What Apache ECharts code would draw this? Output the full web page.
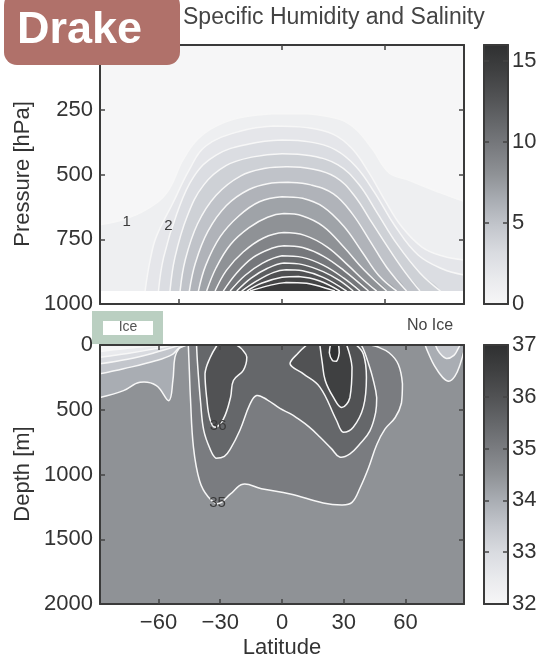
<!DOCTYPE html>
<html><head><meta charset="utf-8">
<script src="https://cdn.jsdelivr.net/npm/echarts@6/dist/echarts.min.js"></script>
<style>html,body{margin:0;padding:0;background:#fff}#c{width:541px;height:659px}</style>
</head><body><div id="c"></div>
<script>
// ---------------- DATA ----------------
// Specific humidity contours (g/kg): [latitude, pressure hPa], from left foot to right foot
const humidityLevels = [1,2,3,4,5,6,7,8,9,10,11,12,13,14,15];
const q1 = [[-88.4,694],[-77,674],[-66,636],[-56,571],[-48,442],[-41,364],[-32,313],[-20,280],[-4,265],[12,265],[28,287],[36,326],[44,403],[52,493],[60.5,519],[77,571],[88.4,603]];
const q2 = [[-66.5,950],[-64,829],[-61,739],[-53,610],[-45,481],[-37,390],[-20,332],[-4,313],[12,319],[25,345],[34,400],[42,490],[50,600],[58,700],[68,780],[78,815],[88.4,830]];
const q3 = [[-60,950],[-57.5,820],[-51,650],[-43,510],[-32,425],[-16,382],[0,367],[14,375],[26,405],[36,470],[45,570],[55,700],[66,810],[78,865],[88.4,888]];
const q4 = [[-54.4,950],[-52,820],[-46,660],[-38,540],[-27,465],[-14,432],[0,420],[14,428],[27,462],[37,535],[46,645],[56,770],[67,880],[77,950]];
const q5 = [[-49.5,950],[-47,830],[-41,690],[-32,580],[-20,505],[-8,476],[2,470],[14,478],[26,510],[35,580],[44,690],[53,800],[60,880],[67,950]];
const q6 = [[-45,950],[-42,840],[-36,720],[-27,620],[-16,558],[-5,533],[3,530],[14,540],[25,575],[34,650],[43,760],[51,860],[60.5,950]];
const q7 = [[-40.6,950],[-37,850],[-30,740],[-21,660],[-11,605],[0,586],[10,592],[20,625],[30,700],[39,800],[47,890],[55.7,950]];
const q8 = [[-36.6,950],[-32,860],[-25,770],[-16,705],[-7,665],[1,651],[10,660],[20,700],[30,780],[40,870],[50.8,950]];
const q9 = [[-32.5,950],[-27,870],[-19,800],[-9,745],[1,724],[11,735],[22,780],[32,850],[40,910],[46,950]];
const q10 = [[-28.5,950],[-22,880],[-14,820],[-5,785],[1,775],[10,782],[20,815],[30,870],[42,950]];
const q11 = [[-25.2,950],[-18,890],[-10,845],[0,814],[10,820],[20,850],[30,900],[37.9,950]];
const q12 = [[-22,950],[-15,900],[-7,862],[1,842],[10,848],[20,875],[28,910],[34.6,950]];
const q13 = [[-19.6,950],[-12,910],[-4,878],[2,868],[10,872],[20,897],[31.4,950]];
const q14 = [[-17.1,950],[-10,920],[0,897],[8,894],[18,910],[28.2,950]];
const q15 = [[-15.5,950],[-7,930],[2,917],[12,920],[25.7,950]];
const humidityLowestLevel = 950;           // no data below this pressure
const humidityLabelText = ['1','2'];
const humidityLabelAt = [[-75.4,681],[-55.2,700]];

// Salinity contours (psu): [latitude, depth m]
const sal325S = [[-88.4,50],[-78,30],[-65,10],[-58,0]];
const sal33S  = [[-88.4,94],[-75,65],[-62,30],[-55,6],[-52,0]];
const sal335S = [[-88.4,145],[-75,110],[-62,60],[-53,18],[-49,0]];
const sal34S  = [[-88.4,223],[-77,184],[-61,120],[-53,70],[-50,22],[-47,0]];
const sal345S = [[-88.4,405],[-77,352],[-69,288],[-61,313],[-55,430],[-53,274],[-52,94],[-50,28],[-47.5,8],[-46,0]];
const sal345N = [[69.5,0],[71,60],[74,160],[78,250],[81,280],[84,240],[86.5,150],[88.4,40]];
const sal34N  = [[74.5,0],[76.5,60],[80,105],[83.5,80],[85.5,30],[86.5,0]];
const sal35   = [[-45.5,0],[-45,200],[-44.5,400],[-43,790],[-40,1050],[-36,1170],[-31,1225],[-25,1150],[-19,1075],[-10,1110],[4,1150],[20,1220],[29,1235],[34,1215],[38,1100],[42,950],[46,770],[50,650],[55,560],[58,450],[58.5,300],[56.5,150],[52,60],[46,12],[43,0]];
const sal355  = [[-41.5,0],[-41,150],[-39.5,450],[-38,660],[-35,800],[-32,875],[-28,860],[-25,800],[-20.5,660],[-15.5,455],[-12.3,390],[-7,425],[-1,490],[4,530],[7,560],[13,630],[18.4,710],[24,800],[28,865],[33,840],[38,760],[42.7,663],[45.5,520],[46,407],[44,250],[42,143],[40,50],[38.5,0]];
const sal36S  = [[-31.5,0],[-35,100],[-37.4,222],[-36.6,405],[-35,573],[-32.5,635],[-28.5,573],[-25,405],[-23.6,274],[-18.8,195],[-17.1,94],[-19.6,30],[-22,0]];
const sal36N  = [[12,0],[8,60],[3.9,145],[10.4,223],[18.4,325],[26.5,583],[29.8,674],[34.6,635],[39.5,480],[41,250],[39.5,70],[36,0]];
const sal365N = [[18.4,0],[19.5,130],[21,274],[25,405],[29,483],[33,405],[34,172],[31.4,0]];
const sal37N  = [[23.5,0],[23,60],[24.5,120],[26.5,125],[27.8,60],[27.5,0]];
const salinityBackground = 34.5;
const salinityLabelText = ['36','35'];
const salinityLabelAt = [[-31,625],[-31.3,1218]];

// axis / colourbar values
const latTicksTop = [-50,0,50];
const latTicks = [-60,-30,0,30,60];
const pressureLabels = [250,500,750,1000];
const depthLabels = [0,500,1000,1500,2000];
const humidityRange = [0,16];
const humidityBarLabels = [0,5,10,15];
const salinityRange = [32,37];
const salinityBarLabels = [32,33,34,35,36,37];

// ---------------- STYLE ----------------
const FONT = '"Liberation Sans", Arial, Helvetica, sans-serif';
const cmapStops = [[0,'#f6f6f7'],[0.1,'#e9eaed'],[0.2,'#d9dbe0'],[0.3,'#c3c6cc'],[0.4,'#a9adb3'],[0.5,'#8f9296'],[0.6,'#7a7c80'],[0.7,'#65676a'],[0.8,'#515254'],[0.9,'#3f4041'],[1,'#2f3031']];
function hex2rgb(h){return [1,3,5].map(i=>parseInt(h.substr(i,2),16));}
function cm(v){
  v=Math.max(0,Math.min(1,v));
  for(let i=1;i<cmapStops.length;i++){
    if(v<=cmapStops[i][0]){
      const [a,ca]=cmapStops[i-1],[b,cb]=cmapStops[i];
      const t=(v-a)/(b-a), A=hex2rgb(ca), B=hex2rgb(cb);
      return 'rgb('+A.map((x,k)=>Math.round(x+(B[k]-x)*t)).join(',')+')';
    }
  }
  return cmapStops[cmapStops.length-1][1];
}
const LAT0=-88.4, LAT1=88.4;
const SMOOTH_BOX=[[Infinity,Infinity],[-Infinity,-Infinity]];

function closePoly(path, ext, side){
  const px=(ext.x1-ext.x0)*0.06, py=(ext.y1-ext.y0)*0.1, tol=0.6;
  const ytol=(ext.y1-ext.y0)*0.003;
  const extend=p=>{
    const [x,y]=p;
    if(x<=ext.x0+tol) return [ext.x0-px,y];
    if(x>=ext.x1-tol) return [ext.x1+px,y];
    if(y<=ext.y0+ytol) return [x,ext.y0-py];
    if(y>=ext.y1-ytol) return [x,ext.y1+py];
    return null;
  };
  const s=extend(path[0]), e=extend(path[path.length-1]);
  const yOut= side==='top' ? ext.y0-py : ext.y1+py;
  const poly=[];
  const push=p=>{const l=poly[poly.length-1]; if(!l||l[0]!==p[0]||l[1]!==p[1]) poly.push(p);};
  if(s) push(s);
  path.forEach(push);
  if(e && s){ push(e); push([e[0],yOut]); push([s[0],yOut]); }
  if(poly.length>1){const f=poly[0],l=poly[poly.length-1]; if(f[0]===l[0]&&f[1]===l[1]) poly.pop();}
  return poly;
}

// humidity layers
const hExt={x0:LAT0,x1:LAT1,y0:0,y1:humidityLowestLevel};
const humContours=[q1,q2,q3,q4,q5,q6,q7,q8,q9,q10,q11,q12,q13,q14,q15];
const hSpan=humidityRange[1]-humidityRange[0];
const hFills=[{poly:[[LAT0-20,-100],[LAT1+20,-100],[LAT1+20,1100],[LAT0-20,1100]],fill:cm(0),smooth:0}];
humContours.forEach((c,i)=>hFills.push({poly:closePoly(c,hExt,'bottom'),fill:cm((humidityLevels[i]-humidityRange[0])/hSpan),smooth:0.4}));
hFills.push({poly:[[LAT0-20,humidityLowestLevel],[LAT1+20,humidityLowestLevel],[LAT1+20,1100],[LAT0-20,1100]],fill:'#ffffff',smooth:0});
const hLines=humContours.slice();

// salinity layers
const sExt={x0:LAT0,x1:LAT1,y0:0,y1:2000};
const sSpan=salinityRange[1]-salinityRange[0];
const sc=v=>cm((v-salinityRange[0])/sSpan);
const salSpec=[
  [sal345S,34.5,'low'],[sal34S,34,'low'],[sal335S,33.5,'low'],[sal33S,33,'low'],[sal325S,32.5,'low'],
  [sal345N,34.5,'low'],[sal34N,34,'low'],
  [sal35,35,'high'],[sal355,35.5,'high'],[sal36S,36,'high'],[sal36N,36,'high'],[sal365N,36.5,'high'],[sal37N,37,'high']
];
const sFills=[{poly:[[LAT0-20,-300],[LAT1+20,-300],[LAT1+20,2300],[LAT0-20,2300]],fill:sc(salinityBackground),smooth:0}];
salSpec.forEach(([c,lev,side])=>sFills.push({poly:closePoly(c,sExt,'top'),fill:sc(side==='low'?lev-0.5:lev),smooth:0.4}));
const sLines=salSpec.map(s=>s[0]);

function fillSeries(layers,xi,yi){
  return {type:'custom',xAxisIndex:xi,yAxisIndex:yi,clip:true,z:1,silent:true,
    data:layers.map((_,i)=>[i]),
    renderItem:(params,api)=>{
      const L=layers[params.dataIndex];
      const shape={points:L.poly.map(p=>api.coord(p))};
      if(L.smooth){shape.smooth=L.smooth;shape.smoothConstraint=SMOOTH_BOX;}
      return {type:'polygon',shape:shape,style:{fill:L.fill,stroke:null}};
    }};
}
function lineSeries(lines,xi,yi){
  return {type:'custom',xAxisIndex:xi,yAxisIndex:yi,clip:true,z:2,silent:true,
    data:lines.map((_,i)=>[i]),
    renderItem:(params,api)=>({type:'polyline',shape:{points:lines[params.dataIndex].map(p=>api.coord(p)),smooth:0.4,smoothConstraint:SMOOTH_BOX},
      style:{stroke:'#f7f7f7',lineWidth:1.5,fill:null}})};
}
function labelSeries(texts,ats,xi,yi){
  return {type:'custom',xAxisIndex:xi,yAxisIndex:yi,z:3,silent:true,
    data:texts.map((_,i)=>[i]),
    renderItem:(params,api)=>{const p=api.coord(ats[params.dataIndex]);
      return {type:'text',x:p[0],y:p[1],style:{text:texts[params.dataIndex],fill:'#3a3a3a',fontSize:15,fontFamily:FONT,align:'center',verticalAlign:'middle'}};}};
}
function barSeries(range,xi,yi){
  return {type:'custom',xAxisIndex:xi,yAxisIndex:yi,z:1,silent:true,data:[[0]],
    renderItem:(params,api)=>{const a=api.coord([0,range[0]]),b=api.coord([1,range[1]]);
      return {type:'rect',shape:{x:a[0],y:b[1],width:b[0]-a[0],height:a[1]-b[1]},
        style:{fill:new echarts.graphic.LinearGradient(0,1,0,0,cmapStops.map(([o,c])=>({offset:o,color:c})))}};}};
}

const LINE={show:true,onZero:false,lineStyle:{color:'#3a3a3a',width:2}};
function ax(o){return Object.assign({type:'value',z:10,axisLine:LINE,splitLine:{show:false},axisTick:{show:false},axisLabel:{show:false}},o);}
const tick=vals=>({show:true,inside:true,length:5,customValues:vals,lineStyle:{color:'#444',width:1.5}});
const fmtPlain=v=>String(v);
const lab=(vals,margin,fmt)=>({show:true,customValues:vals,margin:margin,fontSize:22,color:'#333',fontFamily:FONT,formatter:fmt||fmtPlain});
const fmtLat=v=>v<0?'\u2212'+Math.abs(v):String(v);

const grids=[
  {left:100,top:45,width:364,height:259},
  {left:100,top:345,width:364,height:259},
  {left:484,top:45,width:24,height:259},
  {left:484,top:345,width:24,height:259}
].map(g=>Object.assign({containLabel:false,outerBoundsMode:'none'},g));

const option={
  animation:false,
  grid:grids,
  xAxis:[
    ax({gridIndex:0,min:LAT0,max:LAT1,position:'bottom',axisTick:tick(latTicksTop)}),
    ax({gridIndex:0,min:LAT0,max:LAT1,position:'top',axisTick:tick(latTicksTop)}),
    ax({gridIndex:1,min:LAT0,max:LAT1,position:'bottom',axisTick:tick(latTicks),axisLabel:lab(latTicks,8,fmtLat)}),
    ax({gridIndex:1,min:LAT0,max:LAT1,position:'top',axisTick:tick(latTicks)}),
    ax({gridIndex:2,min:0,max:1,position:'bottom'}),
    ax({gridIndex:2,min:0,max:1,position:'top'}),
    ax({gridIndex:3,min:0,max:1,position:'bottom'}),
    ax({gridIndex:3,min:0,max:1,position:'top'})
  ],
  yAxis:[
    ax({gridIndex:0,min:0,max:1000,inverse:true,position:'left',axisTick:tick([250,500,750]),axisLabel:lab(pressureLabels,7)}),
    ax({gridIndex:0,min:0,max:1000,inverse:true,position:'right',axisTick:tick([250,500,750])}),
    ax({gridIndex:1,min:0,max:2000,inverse:true,position:'left',axisTick:tick([500,1000,1500]),axisLabel:lab(depthLabels,7)}),
    ax({gridIndex:1,min:0,max:2000,inverse:true,position:'right',axisTick:tick([500,1000,1500])}),
    ax({gridIndex:2,min:humidityRange[0],max:humidityRange[1],position:'left',axisTick:tick([5,10,15])}),
    ax({gridIndex:2,min:humidityRange[0],max:humidityRange[1],position:'right',axisTick:tick([5,10,15]),axisLabel:lab(humidityBarLabels,4)}),
    ax({gridIndex:3,min:salinityRange[0],max:salinityRange[1],position:'left',axisTick:tick([33,34,35,36])}),
    ax({gridIndex:3,min:salinityRange[0],max:salinityRange[1],position:'right',axisTick:tick([33,34,35,36]),axisLabel:lab(salinityBarLabels,4)})
  ],
  series:[
    fillSeries(hFills,0,0), lineSeries(hLines,0,0), labelSeries(humidityLabelText,humidityLabelAt,0,0),
    fillSeries(sFills,2,2), lineSeries(sLines,2,2), labelSeries(salinityLabelText,salinityLabelAt,2,2),
    barSeries(humidityRange,4,5), barSeries(salinityRange,6,7)
  ],
  graphic:[
    {type:'text',left:183,top:6,style:{text:'Specific Humidity and Salinity',fill:'#444',fontSize:23,fontFamily:FONT}},
    {type:'text',x:23,y:174,rotation:Math.PI/2,style:{text:'Pressure [hPa]',fill:'#333',fontSize:22,fontFamily:FONT,align:'center',verticalAlign:'middle'}},
    {type:'text',x:23,y:474,rotation:Math.PI/2,style:{text:'Depth [m]',fill:'#333',fontSize:22,fontFamily:FONT,align:'center',verticalAlign:'middle'}},
    {type:'text',x:282,y:648,style:{text:'Latitude',fill:'#333',fontSize:22,fontFamily:FONT,align:'center',verticalAlign:'middle'}},
    {type:'rect',shape:{x:92,y:311,width:71,height:33},style:{fill:'#bacfc1'},z:20},
    {type:'rect',shape:{x:103,y:321,width:50,height:14},style:{fill:'#ffffff'},z:21},
    {type:'text',x:128,y:327,style:{text:'Ice',fill:'#555',fontSize:14,fontFamily:FONT,align:'center',verticalAlign:'middle'},z:22},
    {type:'text',x:430,y:326,style:{text:'No Ice',fill:'#444',fontSize:16,fontFamily:FONT,align:'center',verticalAlign:'middle'}},
    {type:'rect',shape:{x:4,y:-8,width:176,height:73,r:13},style:{fill:'#b0716a'},z:30},
    {type:'text',x:17,y:31,style:{text:'Drake',fill:'#ffffff',fontSize:45,fontWeight:'bold',fontFamily:FONT,verticalAlign:'middle'},z:31}
  ]
};
const chart=echarts.init(document.getElementById('c'),null,{renderer:'canvas'});
chart.setOption(option);
</script></body></html>
